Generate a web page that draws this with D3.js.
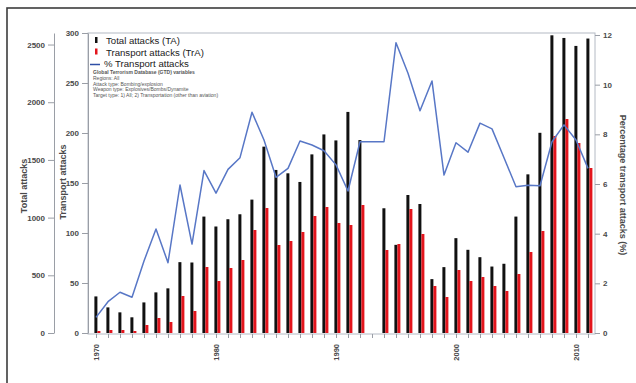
<!DOCTYPE html>
<html>
<head>
<meta charset="utf-8">
<script src="https://cdn.jsdelivr.net/npm/d3@7"></script>
<style>
  html, body { margin: 0; padding: 0; background: #ffffff; }
  #chart { width: 636px; height: 383px; }
  text { font-family: "Liberation Sans", Arial, sans-serif; }
</style>
</head>
<body>
<div id="chart"></div>
<script>
// Years with data (GTD has no 1993 records)
const years = [
  1970, 1971, 1972, 1973, 1974, 1975, 1976, 1977, 1978, 1979,
  1980, 1981, 1982, 1983, 1984, 1985, 1986, 1987, 1988, 1989,
  1990, 1991, 1992, 1994, 1995, 1996, 1997, 1998, 1999,
  2000, 2001, 2002, 2003, 2004, 2005, 2006, 2007, 2008, 2009, 2010, 2011
];

const totalAttacks = [
  317, 222, 179, 136, 265, 352, 387, 614, 611, 1009,
  923, 986, 1029, 1156, 1615, 1413, 1384, 1309, 1548, 1721,
  1669, 1916, 1672, 1081, 764, 1196, 1118, 467, 571,
  822, 721, 657, 576, 600, 1009, 1375, 1735, 2580, 2557, 2488, 2552
];

const transportAttacks = [
  2, 3, 3, 2, 8, 15, 11, 37, 22, 66,
  52, 65, 73, 103, 125, 88, 92, 101, 117, 126,
  110, 108, 128, 83, 89, 124, 99, 47, 36,
  63, 52, 56, 47, 42, 59, 81, 102, 197, 214, 190, 165
];

const pctTransport = [
  0.63, 1.26, 1.64, 1.44, 2.9, 4.19, 2.83, 5.96, 3.58, 6.54,
  5.63, 6.59, 7.06, 8.89, 7.77, 6.27, 6.63, 7.73, 7.57, 7.34,
  6.77, 5.72, 7.7, 7.7, 11.69, 10.46, 8.95, 10.15, 6.36,
  7.66, 7.28, 8.45, 8.22, 7.06, 5.89, 5.95, 5.93, 7.7, 8.38, 7.77, 6.63
];

const totalTicks = [0, 500, 1000, 1500, 2000, 2500];
const transportTicks = [0, 50, 100, 150, 200, 250, 300];
const pctTicks = [0, 2, 4, 6, 8, 10, 12];
const labelYears = [1970, 1980, 1990, 2000, 2010];

const legendItems = ["Total attacks (TA)", "Transport attacks (TrA)", "% Transport attacks"];
const noteLines = [
  "Global Terrorism Database (GTD) variables",
  "Regions: All",
  "Attack type: Bombing/explosion",
  "Weapon type: Explosives/Bombs/Dynamite",
  "Target type: 1) All; 2) Transportation (other than aviation)"
];

const rows = years.map((year, i) => ({
  year,
  total: totalAttacks[i],
  transport: transportAttacks[i],
  pct: pctTransport[i]
}));

const width = 636;
const height = 383;
const plot = { left: 88, right: 595, top: 33, bottom: 334 };
const tickColor = "#9a9ea6";
const labelColor = "#4a4a4a";

const svg = d3.select("#chart")
  .append("svg")
  .attr("width", width)
  .attr("height", height);

// outer page frame (runs off the right and bottom edges)
svg.append("rect")
  .attr("x", 7)
  .attr("y", 8)
  .attr("width", 700)
  .attr("height", 500)
  .attr("fill", "none")
  .attr("stroke", "#3c3c3c")
  .attr("stroke-width", 1.6);

const x = d3.scaleLinear()
  .domain([1970, 2011])
  .range([96, 588]);

const yTotal = d3.scaleLinear().domain([0, 2600]).range([333, 33]);
const yTransport = d3.scaleLinear().domain([0, 300]).range([333, 33]);
const yPct = d3.scaleLinear().domain([0, 12]).range([333, 35]);

// plot box
svg.append("rect")
  .attr("x", plot.left)
  .attr("y", plot.top)
  .attr("width", plot.right - plot.left)
  .attr("height", plot.bottom - plot.top)
  .attr("fill", "none")
  .attr("stroke", "#b4bac4")
  .attr("stroke-width", 1);

function styleAxis(g) {
  g.select(".domain").attr("stroke", tickColor);
  g.selectAll(".tick line").attr("stroke", tickColor);
  g.selectAll(".tick text")
    .attr("fill", labelColor)
    .style("font-size", "8px")
    .style("font-weight", "700");
}

// outer left axis: total attacks
svg.append("g")
  .attr("transform", "translate(54,0)")
  .call(d3.axisLeft(yTotal)
    .tickValues(totalTicks)
    .tickFormat(d3.format("d"))
    .tickSize(6).tickSizeOuter(0).tickPadding(3))
  .call(styleAxis);

// inner left axis: transport attacks
svg.append("g")
  .attr("transform", `translate(${plot.left},0)`)
  .call(d3.axisLeft(yTransport).tickValues(transportTicks).tickSize(6).tickSizeOuter(0).tickPadding(3))
  .call(styleAxis);

// right axis: percentage
svg.append("g")
  .attr("transform", `translate(${plot.right},0)`)
  .call(d3.axisRight(yPct).tickValues(pctTicks).tickSize(5).tickSizeOuter(0).tickPadding(3))
  .call(styleAxis)
  .call((g) => g.select(".domain").remove());

// bottom axis: every year ticked, decades labelled
const allYears = d3.range(1970, 2012);
svg.append("g")
  .attr("transform", `translate(0,${plot.bottom})`)
  .call(d3.axisBottom(x)
    .tickValues(allYears)
    .tickSize(4)
    .tickSizeOuter(0)
    .tickFormat((d) => labelYears.includes(d) ? String(d) : ""))
  .call(styleAxis)
  .call((g) => g.select(".domain").remove())
  .call((g) => g.selectAll(".tick text")
    .attr("transform", "rotate(-90)")
    .attr("text-anchor", "end")
    .attr("x", -10)
    .attr("y", 0)
    .attr("dy", "0.35em")
    .style("font-size", "7.5px"));

// axis titles
const titleStyle = (sel) => sel
  .attr("text-anchor", "middle")
  .attr("fill", labelColor)
  .attr("font-size", 9)
  .attr("font-weight", 700);

svg.append("text")
  .attr("transform", "translate(27,186) rotate(-90)")
  .call(titleStyle)
  .text("Total attacks");

svg.append("text")
  .attr("transform", "translate(66,182) rotate(-90)")
  .call(titleStyle)
  .text("Transport attacks");

svg.append("text")
  .attr("transform", "translate(620,185) rotate(90)")
  .call(titleStyle)
  .text("Percentage transport attacks (%)");

// bars
const bars = svg.append("g");

bars.selectAll(".total-bar")
  .data(rows)
  .enter()
  .append("rect")
  .attr("class", "total-bar")
  .attr("x", (d) => x(d.year) - 1.6)
  .attr("width", 3)
  .attr("y", (d) => yTotal(d.total))
  .attr("height", (d) => yTotal(0) - yTotal(d.total))
  .attr("fill", "#111111");

bars.selectAll(".transport-bar")
  .data(rows)
  .enter()
  .append("rect")
  .attr("class", "transport-bar")
  .attr("x", (d) => x(d.year) + 1.4)
  .attr("width", 3)
  .attr("y", (d) => yTransport(d.transport))
  .attr("height", (d) => yTransport(0) - yTransport(d.transport))
  .attr("fill", "#e3151d");

// percentage line
const line = d3.line()
  .x((d) => x(d.year))
  .y((d) => yPct(d.pct));

svg.append("path")
  .datum(rows)
  .attr("d", line)
  .attr("fill", "none")
  .attr("stroke", "#5877c6")
  .attr("stroke-width", 1.5)
  .attr("stroke-linejoin", "round");

// legend
const legend = svg.append("g");

legend.append("rect").attr("x", 95).attr("y", 37).attr("width", 2.5).attr("height", 6).attr("fill", "#111111");
legend.append("rect").attr("x", 95).attr("y", 48.5).attr("width", 2.5).attr("height", 6).attr("fill", "#e3151d");
legend.append("line")
  .attr("x1", 90).attr("x2", 100)
  .attr("y1", 64.5).attr("y2", 64.5)
  .attr("stroke", "#2e4fa6")
  .attr("stroke-width", 1.5);

legend.selectAll(".legend-label")
  .data(legendItems)
  .enter()
  .append("text")
  .attr("class", "legend-label")
  .attr("x", (d, i) => i === 2 ? 104 : 106)
  .attr("y", (d, i) => 44 + i * 11.6)
  .attr("font-size", 9.6)
  .attr("fill", "#1a1a1a")
  .text((d) => d);

legend.selectAll(".note")
  .data(noteLines)
  .enter()
  .append("text")
  .attr("class", "note")
  .attr("x", 93)
  .attr("y", (d, i) => 74 + i * 5.8)
  .attr("font-size", 5)
  .attr("font-weight", (d, i) => i === 0 ? 700 : 400)
  .attr("fill", "#555555")
  .text((d) => d);
</script>
</body>
</html>
